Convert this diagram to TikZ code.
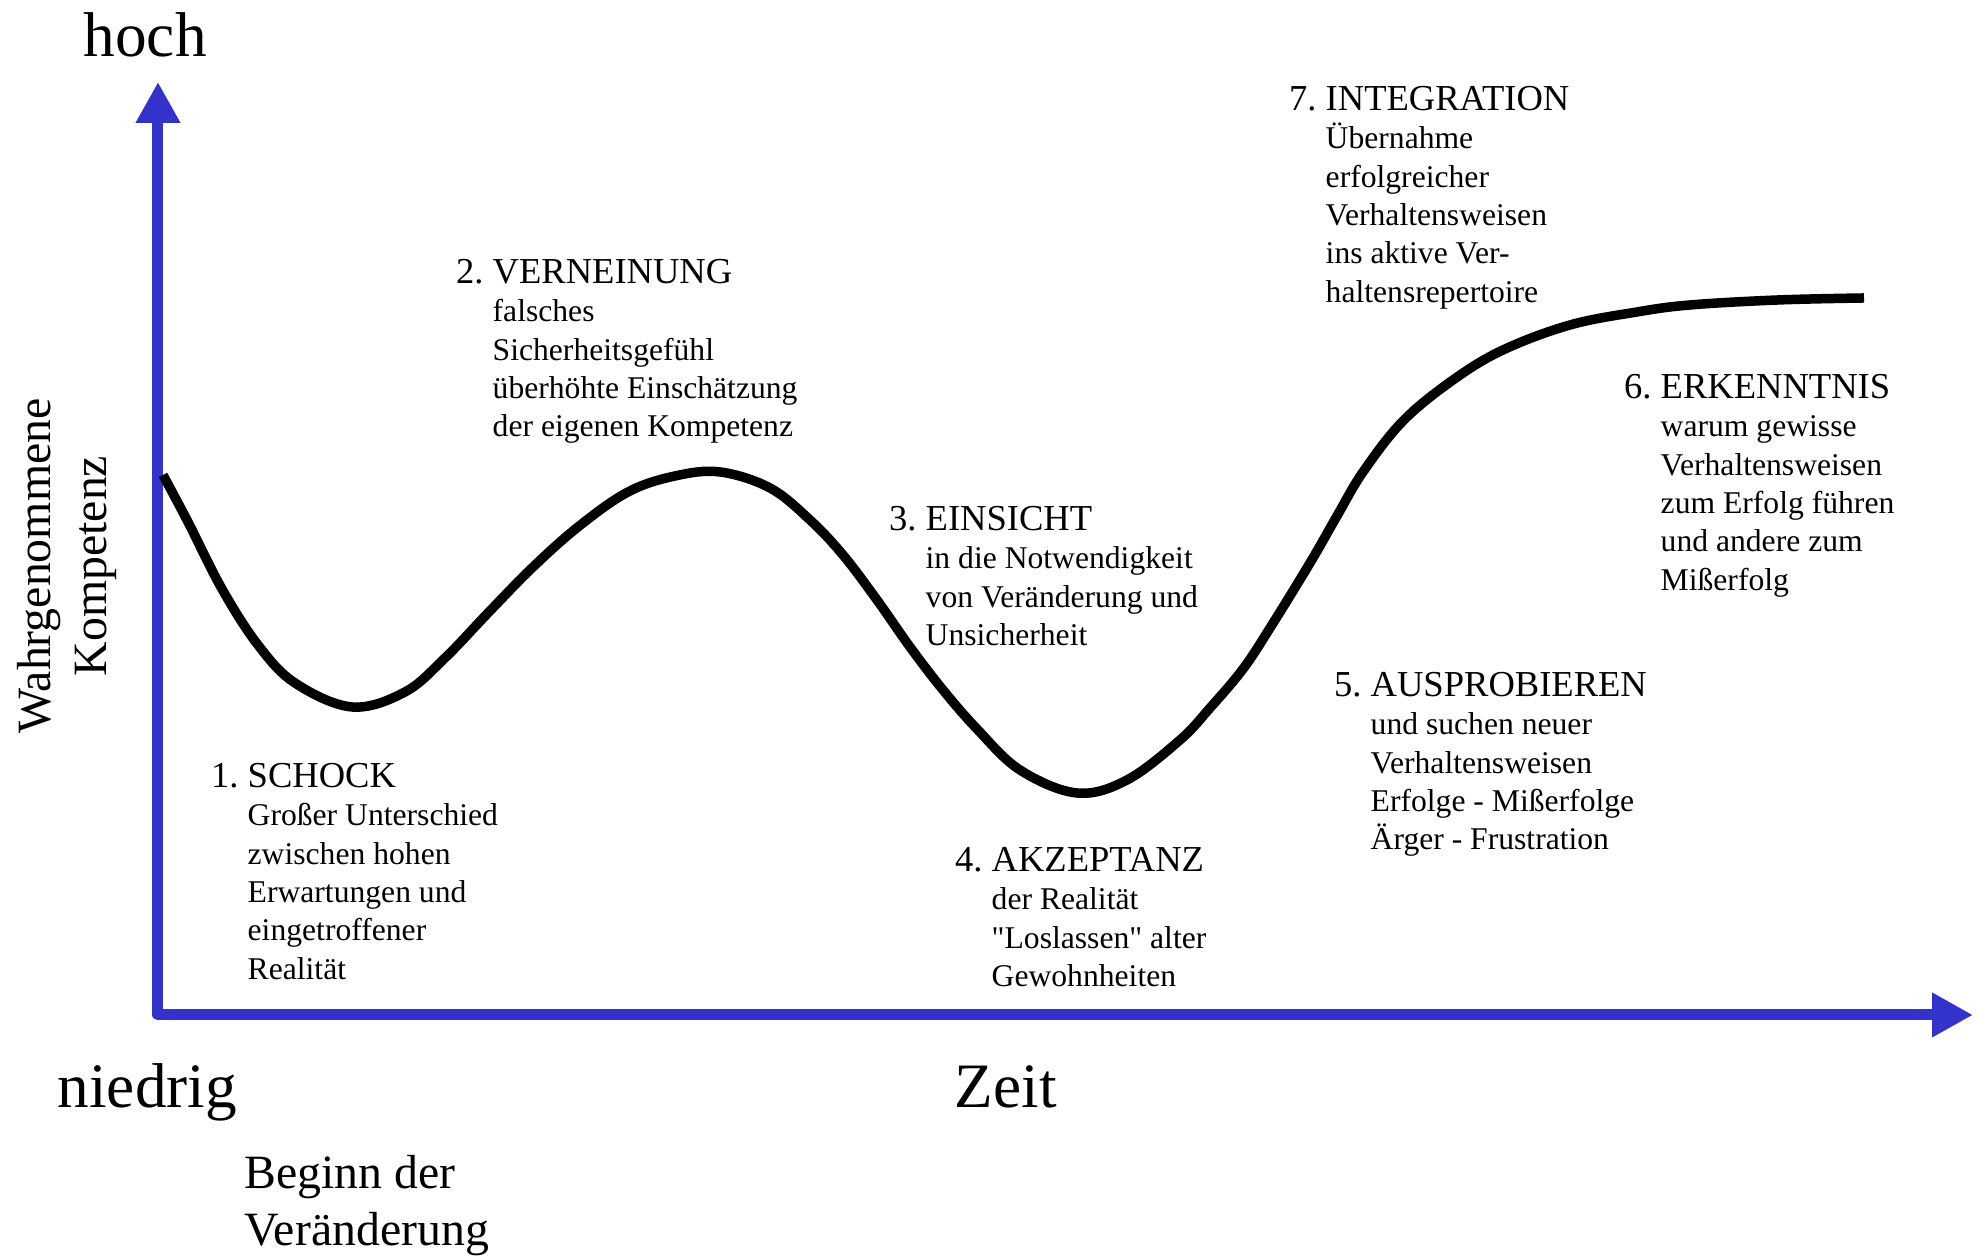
\documentclass[tikz,border=0pt]{standalone}
\usepackage{fontspec}
\setmainfont{Liberation Serif}[Ligatures=TeXOff]
\usepackage{tikz}
\usetikzlibrary{arrows.meta}
\definecolor{achsblau}{RGB}{51,51,204}
\newcommand{\phasetitel}[2]{{\fontsize{10.4}{10.9}\selectfont\rule{0pt}{3mm}\llap{#1.\ }#2}}

\begin{document}
\begin{tikzpicture}[
  >={Triangle[length=4.1mm,width=4.2mm]},
  achse/.style={draw=achsblau,line width=1.1mm,line join=round,<->},
  kurve/.style={line width=0.95mm},
  phase/.style={anchor=north west,inner sep=0,align=left,font=\fontsize{9}{10.9}\selectfont},
  gross/.style={anchor=base west,inner sep=0,font=\fontsize{18}{21}\selectfont},
  mittel/.style={inner sep=0,align=left,font=\fontsize{13.6}{16.2}\selectfont}]
\useasboundingbox (-1.58,-2.42) rectangle (18.24,10.15) ;

\coordinate (O) at (0,0) ;
\coordinate (ytop) at (0,9.33) ;
\coordinate (xend) at (18.15,0) ;
\draw[achse] (ytop) |- (xend) ;

\node[gross] (hoch) at (-0.75,9.58) {hoch} ;
\node[gross] (niedrig) at (-1.01,-0.93) {niedrig} ;
\node[gross] (zeit) at (7.96,-0.93) {Zeit} ;
\node[mittel,anchor=north west] (beginn) at (0.86,-1.40) {Beginn der\\Veränderung} ;
\node[mittel,align=center,rotate=90] (kompetenz) at (-0.91,4.49) {Wahrgenommene\\Kompetenz} ;

% Verlauf
\draw[kurve] plot[smooth,tension=0.6] coordinates {(0.05,5.40) (0.30,4.93) (0.64,4.26)
  (1.00,3.70) (1.37,3.32) (1.94,3.08) (2.47,3.23) (2.87,3.57) (3.30,4.02) (3.74,4.47)
  (4.20,4.88) (4.70,5.23) (5.17,5.39) (5.62,5.43) (6.12,5.27) (6.52,4.95) (6.85,4.60)
  (7.19,4.15) (7.52,3.68) (7.85,3.25) (8.19,2.86) (8.62,2.45) (9.19,2.22) (9.69,2.35)
  (10.22,2.75) (10.52,3.07) (10.85,3.46) (11.12,3.87) (11.52,4.52) (11.79,4.99)
  (12.05,5.43) (12.45,5.94) (12.95,6.35) (13.45,6.65) (14.12,6.90) (14.79,7.03)
  (15.32,7.10) (16.20,7.15) (17.06,7.17)} ;

\node[phase] (schock) at (0.89,2.58) {\phasetitel{1}{SCHOCK}\\Großer Unterschied\\zwischen hohen\\Erwartungen und\\eingetroffener\\Realität} ;
\node[phase] (verneinung) at (3.34,7.62) {\phasetitel{2}{VERNEINUNG}\\falsches\\Sicherheitsgefühl\\überhöhte Einschätzung\\der eigenen Kompetenz} ;
\node[phase] (einsicht) at (7.67,5.15) {\phasetitel{3}{EINSICHT}\\in die Notwendigkeit\\von Veränderung und\\Unsicherheit} ;
\node[phase] (akzeptanz) at (8.33,1.74) {\phasetitel{4}{AKZEPTANZ}\\der Realität\\"Loslassen" alter\\Gewohnheiten} ;
\node[phase] (ausprobieren) at (12.12,3.49) {\phasetitel{5}{AUSPROBIEREN}\\und suchen neuer\\Verhaltensweisen\\Erfolge - Mißerfolge\\Ärger - Frustration} ;
\node[phase] (erkenntnis) at (15.02,6.47) {\phasetitel{6}{ERKENNTNIS}\\warum gewisse\\Verhaltensweisen\\zum Erfolg führen\\und andere zum\\Mißerfolg} ;
\node[phase] (integration) at (11.67,9.35) {\phasetitel{7}{INTEGRATION}\\Übernahme\\erfolgreicher\\Verhaltensweisen\\ins aktive Ver-\\haltensrepertoire} ;
\end{tikzpicture}
\end{document}
